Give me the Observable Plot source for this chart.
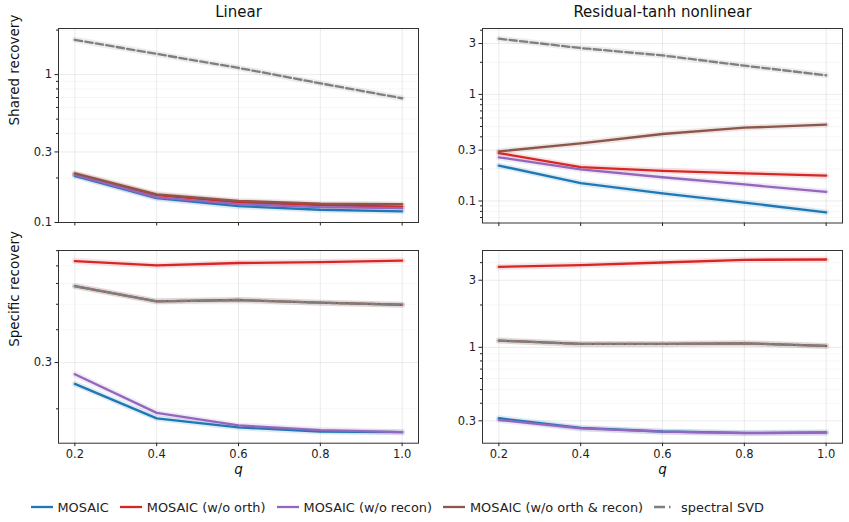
<!DOCTYPE html>
<html>
<head>
<meta charset="utf-8">
<script src="https://cdn.jsdelivr.net/npm/d3@7"></script>
<script src="https://cdn.jsdelivr.net/npm/@observablehq/plot@0.6"></script>
<style>
  body { margin: 0; background: #fff; font-family: "DejaVu Sans", sans-serif; }
  #chart { position: relative; width: 849px; height: 522px; overflow: hidden; }
  #chart > svg { position: absolute; }
  .legend { position: absolute; left: 25px; top: 498px; height: 18px;
            display: flex; justify-content: flex-start; align-items: center;
            font-size: 12.9px; color: #222; white-space: nowrap; }
  .legend .item { display: flex; align-items: center; margin: 0 5.5px; }
  .legend svg { margin-right: 5px; }
</style>
</head>
<body>
<div id="chart"></div>
<script>
// Missing-fraction levels on the x axis
const q = [0.2, 0.4, 0.6, 0.8, 1.0];
const xTickLabels = ["0.2", "0.4", "0.6", "0.8", "1.0"];

// Methods, in drawing order (later ones on top)
const methods = ["MOSAIC", "MOSAIC (w/o orth)", "MOSAIC (w/o recon)", "MOSAIC (w/o orth & recon)", "spectral SVD"];
const colors = ["#1f77b4", "#d62728", "#9467bd", "#8c564b", "#7f7f7f"];

// Recovery error per method (rows follow `methods`), one array per panel
const sharedLinear = [
  [0.207, 0.146, 0.129, 0.122, 0.119],
  [0.212, 0.153, 0.137, 0.131, 0.128],
  [0.210, 0.148, 0.133, 0.127, 0.125],
  [0.215, 0.155, 0.140, 0.134, 0.133],
  [1.72, 1.38, 1.11, 0.873, 0.692]
];
const sharedTanh = [
  [0.215, 0.147, 0.118, 0.0966, 0.0783],
  [0.282, 0.208, 0.192, 0.182, 0.173],
  [0.257, 0.198, 0.167, 0.143, 0.122],
  [0.292, 0.347, 0.425, 0.487, 0.520],
  [3.33, 2.72, 2.32, 1.86, 1.51]
];
const specificLinear = [
  [0.249, 0.184, 0.170, 0.164, 0.163],
  [0.730, 0.703, 0.718, 0.724, 0.733],
  [0.271, 0.193, 0.173, 0.166, 0.163],
  [0.586, 0.513, 0.519, 0.507, 0.498],
  [0.586, 0.513, 0.519, 0.507, 0.498]
];
const specificTanh = [
  [0.313, 0.267, 0.252, 0.246, 0.248],
  [3.73, 3.84, 4.01, 4.19, 4.21],
  [0.304, 0.265, 0.251, 0.245, 0.247],
  [1.116, 1.057, 1.057, 1.068, 1.023],
  [1.116, 1.057, 1.057, 1.068, 1.023]
];

// Log-axis ticks per panel
const majorSharedLinear = [0.1, 0.3, 1];
const minorSharedLinear = [0.2, 0.4, 0.5, 0.6, 0.7, 0.8, 0.9, 2];
const majorSharedTanh = [0.1, 0.3, 1, 3];
const minorSharedTanh = [0.07, 0.08, 0.09, 0.2, 0.4, 0.5, 0.6, 0.7, 0.8, 0.9, 2, 4];
const majorSpecificLinear = [0.3];
const minorSpecificLinear = [0.2, 0.4, 0.5, 0.6, 0.7, 0.8];
const majorSpecificTanh = [0.3, 1, 3];
const minorSpecificTanh = [0.4, 0.5, 0.6, 0.7, 0.8, 0.9, 2, 4];

const titles = ["Linear", "Residual-tanh nonlinear"];
const rowLabels = ["Shared recovery", "Specific recovery"];

function tidy(values) {
  const rows = [];
  values.forEach((vals, i) => vals.forEach((v, j) => rows.push({q: q[j], v, i})));
  return rows;
}

function panel(values, o) {
  const rows = tidy(values);
  const marks = [
    Plot.gridY(o.minor, {stroke: "#000", strokeOpacity: 0.035}),
    Plot.gridY(o.major, {stroke: "#000", strokeOpacity: 0.08}),
    Plot.gridX(q, {stroke: "#000", strokeOpacity: 0.08})
  ];
  // faint spread bands behind each series
  methods.forEach((m, i) => {
    marks.push(Plot.line(rows.filter(d => d.i === i), {
      x: "q", y: "v", stroke: colors[i], strokeWidth: 6, strokeOpacity: 0.14, clip: true
    }));
  });
  methods.forEach((m, i) => {
    marks.push(Plot.line(rows.filter(d => d.i === i), {
      x: "q", y: "v", stroke: colors[i], strokeWidth: 2.3,
      strokeDasharray: i === 4 ? "7.4,3.2" : null, clip: true
    }));
  });
  marks.push(
    Plot.axisY(o.minor, {tickSize: 2, tickFormat: () => "", label: null, stroke: "#222"}),
    Plot.axisY(o.major, {tickSize: 3.5, tickPadding: 3, tickFormat: d => String(d), label: null, stroke: "#222", fill: "#222"}),
    Plot.axisX(q, {tickSize: 3.5, tickPadding: 3, label: null, stroke: "#222", fill: "#222",
      tickFormat: o.xLabels ? (d, k) => xTickLabels[k] : () => ""}),
    Plot.frame({stroke: "#333", strokeWidth: 1})
  );
  if (o.title) marks.push(Plot.text([o.title], {frameAnchor: "top", dy: -16, fontSize: 15, fill: "#111", lineAnchor: "middle"}));
  if (o.ylabel) marks.push(Plot.text([o.ylabel], {frameAnchor: "left", dx: -44, rotate: -90, fontSize: 13.5, fill: "#111", lineAnchor: "middle"}));
  if (o.xLabels) marks.push(Plot.text(["q"], {frameAnchor: "bottom", dy: 21, fontSize: 13.5, fontStyle: "italic", fill: "#111", lineAnchor: "top"}));

  const svg = Plot.plot({
    width: o.width, height: o.height,
    marginLeft: o.ml, marginRight: o.mr, marginTop: o.mt, marginBottom: o.mb,
    style: {fontFamily: "DejaVu Sans, sans-serif", fontSize: "11.5px", background: "transparent", overflow: "visible"},
    x: {domain: [0.16, 1.04], label: null},
    y: {type: "log", domain: o.domain, label: null},
    marks
  });
  svg.style.left = o.left + "px";
  svg.style.top = o.top + "px";
  return svg;
}

const chart = document.getElementById("chart");
chart.append(
  panel(sharedLinear, {left: 0, top: 0, width: 424, height: 240, ml: 58, mr: 6, mt: 28, mb: 18,
    domain: [0.1, 2.05], major: majorSharedLinear, minor: minorSharedLinear, title: titles[0], ylabel: rowLabels[0]}),
  panel(sharedTanh, {left: 424, top: 0, width: 425, height: 240, ml: 58, mr: 7, mt: 28, mb: 17.5,
    domain: [0.0622, 4.15], major: majorSharedTanh, minor: minorSharedTanh, title: titles[1]}),
  panel(specificLinear, {left: 0, top: 240, width: 424, height: 240, ml: 58, mr: 6, mt: 10, mb: 37.3,
    domain: [0.148, 0.801], major: majorSpecificLinear, minor: minorSpecificLinear, ylabel: rowLabels[1], xLabels: true}),
  panel(specificTanh, {left: 424, top: 240, width: 425, height: 240, ml: 58, mr: 7, mt: 10, mb: 37.3,
    domain: [0.208, 4.88], major: majorSpecificTanh, minor: minorSpecificTanh, xLabels: true})
);

// Legend below the panels
const legend = document.createElement("div");
legend.className = "legend";
methods.forEach((m, i) => {
  const item = document.createElement("div");
  item.className = "item";
  const dash = i === 4 ? ' stroke-dasharray="11,4,1.5,20"' : "";
  item.innerHTML = `<svg width="22" height="10"><line x1="0" x2="22" y1="5" y2="5" stroke="${colors[i]}" stroke-width="2.3"${dash}/></svg><span>${m.replace("&", "&amp;")}</span>`;
  legend.append(item);
});
chart.append(legend);
</script>
</body>
</html>
